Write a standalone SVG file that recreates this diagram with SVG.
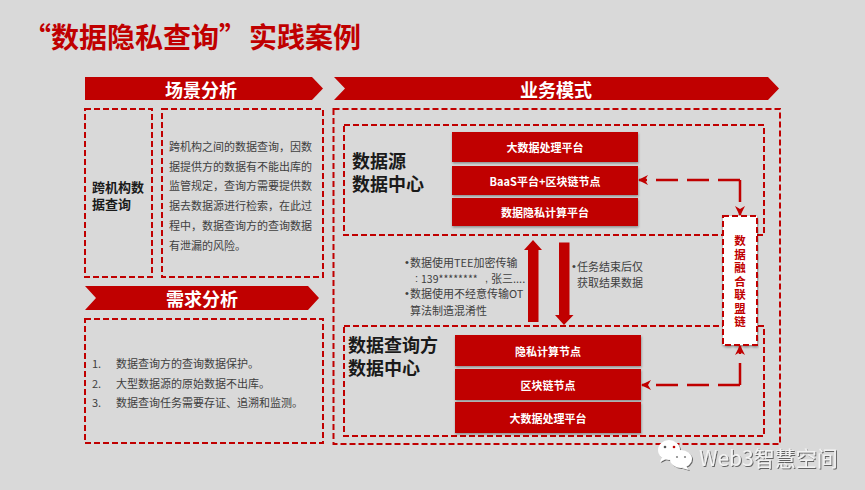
<svg xmlns="http://www.w3.org/2000/svg" width="865" height="490" viewBox="0 0 865 490" xml:lang="zh-CN">
<style>
text{font-family:"Noto Sans CJK SC","Noto Sans",sans-serif;dominant-baseline:central}
.hd{fill:#c00000}
.ht{fill:#fff;font-size:18px;font-weight:700;text-anchor:middle}
.box{fill:none;stroke:#c00000;stroke-width:2;stroke-dasharray:6 3}
.bar{fill:#c00000;filter:url(#sh)}
.bt{fill:#fff;font-size:11px;font-weight:700;text-anchor:middle}
.body{fill:#404040;font-size:11px}
.bl{font-family:"Liberation Sans",sans-serif}
.big{fill:#1a1a1a;font-size:18px;font-weight:700}
.conn{fill:none;stroke:#c00000;stroke-width:2.5;stroke-dasharray:22 9}
.solid{fill:#c00000}
</style>
<defs>
<filter id="sh" x="-5%" y="-15%" width="110%" height="140%"><feDropShadow dx="0.5" dy="1.5" stdDeviation="1" flood-color="#000" flood-opacity="0.35"/></filter>
<filter id="ws" x="-10%" y="-20%" width="120%" height="140%"><feDropShadow dx="1" dy="1" stdDeviation="0.6" flood-color="#444" flood-opacity="0.8"/></filter>
<marker id="ah" viewBox="0 0 10 10" refX="9" refY="5" markerWidth="4" markerHeight="4" orient="auto-start-reverse"><path d="M0 0L10 5L0 10L3 5Z" fill="#c00000"/></marker>
</defs>
<rect width="865" height="490" fill="#d9d9d9"/>
<text id="title" x="23" y="36" font-size="28" font-weight="700" fill="#c00000">“<tspan x="51">数据隐私查询</tspan><tspan x="219">”</tspan><tspan x="249">实践案例</tspan></text>

<g id="header-scene"><polygon class="hd" points="85,77 312,77 323,88.500 312,100 85,100"/><text class="ht" x="201" y="88.500">场景分析</text></g>
<g id="header-mode"><polygon class="hd" points="334,77 768,77 779,88.500 768,100 334,100 345,88.500"/><text class="ht" x="556" y="88.500">业务模式</text></g>
<g id="header-need"><polygon class="hd" points="85,286 308,286 319,298 308,310 85,310 96,298"/><text class="ht" x="202" y="298">需求分析</text></g>

<g id="scene-name"><rect class="box" x="85" y="109" width="67" height="168"/>
<text x="92" y="186" font-size="13" font-weight="700" fill="#1a1a1a">跨机构数</text><text x="92" y="203" font-size="13" font-weight="700" fill="#1a1a1a">据查询</text></g>
<g id="scene-text"><rect class="box" x="162" y="109" width="161" height="168"/>
<text class="body" x="169" y="146">跨机构之间的数据查询&#xFF0C;因数</text>
<text class="body" x="169" y="165.500">据提供方的数据有不能出库的</text>
<text class="body" x="169" y="185">监管规定&#xFF0C;查询方需要提供数</text>
<text class="body" x="169" y="205">据去数据源进行检索&#xFF0C;在此过</text>
<text class="body" x="169" y="225">程中&#xFF0C;数据查询方的查询数据</text>
<text class="body" x="169" y="244.500">有泄漏的风险。</text></g>
<g id="need-list"><rect class="box" x="85" y="319" width="238" height="124"/>
<text class="body" x="92" y="363">1.</text><text class="body" x="116" y="363">数据查询方的查询数据保护。</text>
<text class="body" x="92" y="382.500">2.</text><text class="body" x="116" y="382.500">大型数据源的原始数据不出库。</text>
<text class="body" x="92" y="402">3.</text><text class="body" x="116" y="402">数据查询任务需要存证、追溯和监测。</text></g>

<g id="mode-frame"><rect class="box" x="333.500" y="109" width="446.500" height="335"/></g>
<g id="source-center"><rect class="box" x="344" y="125" width="420" height="110"/>
<text class="big" x="352" y="160">数据源</text><text class="big" x="352" y="183">数据中心</text></g>
<g id="query-center"><rect class="box" x="344" y="326" width="420" height="110"/>
<text class="big" x="348" y="344">数据查询方</text><text class="big" x="348" y="367">数据中心</text></g>

<g id="src-1"><rect class="bar" x="452" y="132" width="186" height="30"/><text class="bt" x="545" y="147">大数据处理平台</text></g>
<g id="src-2"><rect class="bar" x="452" y="166" width="186" height="29"/><text class="bt" x="545" y="180.500">BaaS平台+区块链节点</text></g>
<g id="src-3"><rect class="bar" x="452" y="198" width="186" height="28"/><text class="bt" x="545" y="212">数据隐私计算平台</text></g>
<g id="qry-1"><rect class="bar" x="455" y="335" width="186" height="31"/><text class="bt" x="548" y="351">隐私计算节点</text></g>
<g id="qry-2"><rect class="bar" x="455" y="369" width="186" height="31"/><text class="bt" x="548" y="385">区块链节点</text></g>
<g id="qry-3"><rect class="bar" x="455" y="402" width="186" height="31"/><text class="bt" x="548" y="418">大数据处理平台</text></g>

<g id="alliance-chain"><rect x="723" y="216" width="34" height="129" fill="#fff" stroke="#c00000" stroke-width="2" stroke-dasharray="6 3" filter="url(#sh)"/>
<text x="740" y="235" fill="#c00000" font-size="11.500" font-weight="700" letter-spacing="2" style="writing-mode:vertical-rl">数据融合联盟链</text></g>

<g id="connectors">
<path class="conn" marker-end="url(#ah)" d="M740 180H639"/>
<path class="conn" marker-end="url(#ah)" stroke-dasharray="16 10" d="M740 180V215"/>
<path class="conn" marker-end="url(#ah)" d="M740 385H642"/>
<path class="conn" marker-end="url(#ah)" stroke-dasharray="24 6" d="M740 385V346"/>
<polygon class="solid" points="533,240 542,250 538.500,250 538.500,322 528,322 528,250 524,250"/>
<polygon class="solid" points="559,242.500 569.500,242.500 569.500,315 573.500,315 564,325 555,315 559,315"/>
</g>

<g id="notes-up"><text class="body" x="405" y="262"><tspan class="bl">•</tspan><tspan x="410">数据使用TEE加密传输</tspan></text>
<text class="body" x="415" y="277.500"><tspan class="bl">:</tspan><tspan x="421" font-size="10.500">139********</tspan><tspan class="bl" x="485">,</tspan><tspan x="491">张三....</tspan></text>
<text class="body" x="405" y="293"><tspan class="bl">•</tspan><tspan x="410">数据使用不经意传输OT</tspan></text>
<text class="body" x="410" y="310">算法制造混淆性</text></g>
<g id="notes-down"><text class="body" x="572" y="266"><tspan class="bl">•</tspan><tspan x="577">任务结束后仅</tspan></text><text class="body" x="577" y="282">获取结果数据</text></g>

<g id="watermark">
<g fill="#fff" filter="url(#ws)"><ellipse cx="669" cy="450" rx="11" ry="10"/><path d="M662 457l-2 5 6-3z"/><ellipse cx="681" cy="459" rx="11" ry="9"/><path d="M686 466l3 4-7-2z"/></g>
<circle cx="665" cy="447" r="1.300" fill="#555"/><circle cx="674" cy="447" r="1.300" fill="#c00000"/><circle cx="677" cy="457" r="1.100" fill="#888"/><circle cx="685" cy="457" r="1.100" fill="#888"/>
<text x="699" y="457" font-size="21" fill="#f2f2f2" filter="url(#ws)">Web3智慧空间</text>
</g>
</svg>
